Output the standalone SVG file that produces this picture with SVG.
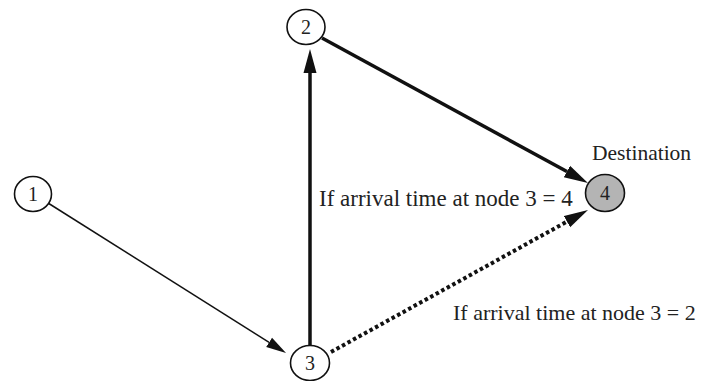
<svg xmlns="http://www.w3.org/2000/svg" width="701" height="381" viewBox="0 0 701 381">
  <style>
    .node { fill: #ffffff; stroke: #111111; stroke-width: 1.6; }
    .dest { fill: #b4b4b4; }
    .num { font-family: "Liberation Serif", "Times New Roman", serif; font-size: 20px; fill: #222222; text-anchor: middle; }
    .label { font-family: "Liberation Serif", "Times New Roman", serif; font-size: 22px; fill: #222222; }
    .thin { stroke: #111111; stroke-width: 1.5; fill: none; }
    .thick { stroke: #111111; stroke-width: 3.5; fill: none; }
    .dotted { stroke: #111111; stroke-width: 4; fill: none; stroke-dasharray: 3.5 2.8; }
  </style>
  <defs>
    <!-- arrowheads start at the line end (refX=0) and point along it -->
    <marker id="headBig" markerUnits="userSpaceOnUse" markerWidth="26" markerHeight="15" refX="0" refY="7" orient="auto">
      <path d="M0,0.5 L24,7 L0,13.5 z" fill="#111111"/>
    </marker>
    <marker id="headSmall" markerUnits="userSpaceOnUse" markerWidth="22" markerHeight="13" refX="0" refY="6" orient="auto">
      <path d="M0,0.5 L20,6 L0,11.5 z" fill="#111111"/>
    </marker>
  </defs>

  <g id="connectors">
    <line class="thin" x1="48" y1="203" x2="269.1" y2="342.3" marker-end="url(#headSmall)"/>
    <line class="thick" x1="310" y1="345" x2="310" y2="73" marker-end="url(#headBig)"/>
    <line class="thick" x1="322" y1="38" x2="566.9" y2="171.5" marker-end="url(#headBig)"/>
    <line class="dotted" x1="331" y1="352" x2="567" y2="221.6" marker-end="url(#headBig)"/>
  </g>

  <g id="node1">
    <ellipse class="node" cx="33" cy="194" rx="18.5" ry="17.5"/>
    <text class="num" x="33" y="201">1</text>
  </g>
  <g id="node2">
    <ellipse class="node" cx="306" cy="27" rx="19" ry="17.5"/>
    <text class="num" x="306" y="34">2</text>
  </g>
  <g id="node3">
    <ellipse class="node" cx="310" cy="363" rx="19.5" ry="17.5"/>
    <text class="num" x="310" y="370">3</text>
  </g>
  <g id="node4">
    <ellipse class="node dest" cx="605" cy="193" rx="19.5" ry="18.5"/>
    <text class="num" x="605" y="200">4</text>
  </g>

  <g id="labels">
    <text class="label" x="592" y="160" style="font-size:21.5px">Destination</text>
    <text class="label" x="319" y="206" style="font-size:23px">If arrival time at node 3 = 4</text>
    <text class="label" x="453" y="320">If arrival time at node 3 = 2</text>
  </g>
</svg>
